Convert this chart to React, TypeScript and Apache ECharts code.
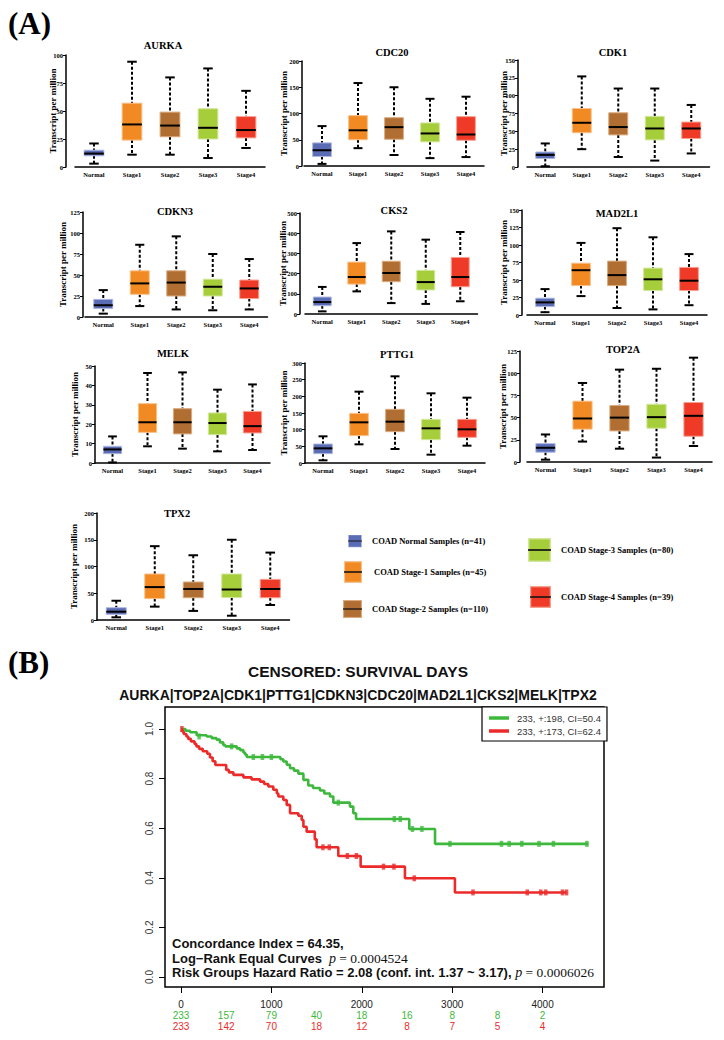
import React, { useEffect, useRef } from 'react';
import * as echarts from 'echarts';

// ---------- DATA ----------
const categories = ['Normal', 'Stage1', 'Stage2', 'Stage3', 'Stage4'];
const groupNames = [
  'COAD Normal Samples (n=41)',
  'COAD Stage-1 Samples (n=45)',
  'COAD Stage-2 Samples (n=110)',
  'COAD Stage-3 Samples (n=80)',
  'COAD Stage-4 Samples (n=39)',
];
const genes = ['AURKA', 'CDC20', 'CDK1', 'CDKN3', 'CKS2', 'MAD2L1', 'MELK', 'PTTG1', 'TOP2A', 'TPX2'];
// each group: [min, Q1, median, Q3, max]
const AURKA = [[3, 10, 12, 15, 21], [11, 24, 38, 57, 94], [11, 27, 37, 49, 80], [8, 25, 35, 52, 88], [17, 26, 33, 45, 68]];
const CDC20 = [[4, 18, 30, 44, 76], [34, 50, 68, 96, 158], [21, 51, 74, 92, 150], [15, 46, 62, 82, 128], [17, 49, 60, 94, 132]];
const CDK1 = [[1, 12, 17, 21, 33], [25, 48, 62, 82, 127], [14, 45, 56, 76, 110], [9, 38, 54, 71, 110], [19, 40, 54, 63, 87]];
const CDKN3 = [[4, 10, 14, 21, 32], [13, 27, 40, 55, 86], [9, 25, 41, 55, 96], [8, 25, 36, 45, 75], [9, 22, 34, 44, 69]];
const CKS2 = [[13, 41, 59, 84, 134], [112, 148, 183, 257, 351], [54, 160, 203, 261, 409], [50, 119, 158, 216, 368], [63, 135, 183, 280, 406]];
const MAD2L1 = [[4, 12, 18, 24, 37], [27, 42, 64, 74, 103], [10, 42, 57, 77, 124], [8, 35, 51, 67, 111], [14, 35, 49, 68, 87]];
const MELK = [[0.3, 4.8, 7, 8.6, 13.7], [8.6, 15.8, 21, 30.6, 46.4], [7.4, 15, 21, 28, 46.7], [6, 14.6, 20.6, 25.8, 37.8], [6.7, 15.5, 19, 26.6, 40.5]];
const PTTG1 = [[8, 28, 44, 57, 80], [56, 82, 122, 149, 214], [42, 94, 124, 161, 260], [25, 70, 104, 131, 209], [52, 77, 101, 131, 196]];
const TOP2A = [[2.6, 11, 16, 20.7, 31], [23, 37, 49, 68.5, 89], [15, 35, 50, 63.6, 104], [5, 38, 50.5, 65, 105], [18, 29, 52, 67, 117.5]];
const TPX2 = [[5, 10.5, 15.5, 23, 36], [25, 40, 61.5, 86, 138], [17, 41.6, 58, 71, 121], [8, 42, 57, 86, 150], [28, 41.6, 58, 76, 126]];
const yMax = [100, 200, 150, 125, 500, 150, 50, 300, 125, 200];
const yStep = [25, 50, 25, 25, 100, 25, 10, 50, 25, 50];

// Kaplan-Meier steps: [day, survival]
const kmLow = [[0, 1], [50, 0.993], [100, 0.987], [173, 0.975], [284, 0.97], [340, 0.963], [394, 0.957], [430, 0.946], [468, 0.935], [490, 0.93], [616, 0.922], [653, 0.915], [690, 0.905], [708, 0.897], [727, 0.887], [1100, 0.878], [1132, 0.869], [1170, 0.856], [1206, 0.842], [1250, 0.832], [1298, 0.82], [1354, 0.795], [1408, 0.772], [1460, 0.762], [1537, 0.752], [1585, 0.74], [1648, 0.728], [1685, 0.703], [1869, 0.687], [1906, 0.66], [1936, 0.637], [2525, 0.597], [2810, 0.537], [4505, 0.537]];
const kmHigh = [[0, 1], [15, 0.99], [30, 0.98], [60, 0.97], [80, 0.96], [110, 0.95], [150, 0.94], [170, 0.93], [200, 0.92], [240, 0.91], [290, 0.9], [320, 0.885], [350, 0.87], [380, 0.855], [500, 0.835], [530, 0.825], [580, 0.815], [690, 0.805], [780, 0.797], [874, 0.788], [920, 0.778], [966, 0.768], [1021, 0.755], [1060, 0.74], [1077, 0.728], [1132, 0.714], [1169, 0.694], [1206, 0.66], [1298, 0.65], [1335, 0.633], [1354, 0.606], [1390, 0.586], [1480, 0.555], [1500, 0.523], [1740, 0.488], [1987, 0.445], [2477, 0.398], [3030, 0.341], [4265, 0.341]];
const censorLow = [[200, 0.97], [560, 0.93], [800, 0.887], [900, 0.887], [1000, 0.887], [1740, 0.703], [2360, 0.637], [2425, 0.637], [2560, 0.597], [2665, 0.597], [2975, 0.537], [3545, 0.537], [3630, 0.537], [3770, 0.537], [3960, 0.537], [4120, 0.537], [4490, 0.537]];
const censorHigh = [[10, 1], [1570, 0.523], [1640, 0.523], [1840, 0.488], [1940, 0.488], [2240, 0.445], [2355, 0.445], [2580, 0.398], [3230, 0.341], [3830, 0.341], [3980, 0.341], [4035, 0.341], [4220, 0.341], [4265, 0.341]];
const kmNames = ['233, +:198, CI=50.4', '233, +:173, CI=62.4'];
const kmDayTicks = [0, 1000, 2000, 3000, 4000];
const kmSurvTicks = [0, 0.2, 0.4, 0.6, 0.8, 1.0];
const riskDays = [0, 500, 1000, 1500, 2000, 2500, 3000, 3500, 4000];
const riskLow = [233, 157, 79, 40, 18, 16, 8, 8, 2];
const riskHigh = [233, 142, 70, 18, 12, 8, 7, 5, 4];

// ---------- STYLE / LAYOUT ----------
const geneData = [AURKA, CDC20, CDK1, CDKN3, CKS2, MAD2L1, MELK, PTTG1, TOP2A, TPX2];
const fills = ['#5A6CB4', '#F28A24', '#B16E32', '#A6CE3A', '#EE3A26'];
const edges = ['#AEB8E2', '#F8C28C', '#D9AA7E', '#D2E79C', '#F6A092'];
const SERIF = '"Liberation Serif", "Times New Roman", serif';
const SANS = '"Liberation Sans", Arial, sans-serif';
const GREEN = '#3DB83D';
const RED = '#EC2A2A';

const panels = [
  { gx: 75, bw: 38, top: 55, bot: 167, ax: 66, ng: 9, tx: 163, ty: 45 },
  { gx: 304, bw: 36, top: 61, bot: 166, ax: 302, ng: 14, tx: 392, ty: 52 },
  { gx: 527, bw: 36.5, top: 60, bot: 167, ax: 518, ng: 10, tx: 613, ty: 52 },
  { gx: 85, bw: 36.5, top: 212, bot: 317, ax: 83, ng: 16, tx: 175, ty: 211 },
  { gx: 305, bw: 34.5, top: 213, bot: 314, ax: 300, ng: 13, tx: 394, ty: 210 },
  { gx: 527, bw: 36, top: 210, bot: 315, ax: 522, ng: 14, tx: 617, ty: 213 },
  { gx: 95, bw: 35, top: 366, bot: 463, ax: 95, ng: 16, tx: 173, ty: 353 },
  { gx: 305, bw: 36, top: 363, bot: 463, ax: 305, ng: 17, tx: 397, ty: 354 },
  { gx: 527, bw: 37, top: 351, bot: 462, ax: 520, ng: 13, tx: 623, ty: 349 },
  { gx: 97, bw: 38.5, top: 513, bot: 620, ax: 97, ng: 19, tx: 177, ty: 513 },
];

const legendPos = [
  { x: 348, cy: 541, w: 14, h: 13, pad: 5 },
  { x: 344, cy: 572, w: 18, h: 22, pad: 7 },
  { x: 343, cy: 609, w: 19, h: 18, pad: 5 },
  { x: 528, cy: 550, w: 23, h: 24, pad: 5 },
  { x: 530, cy: 597, w: 21, h: 22, pad: 5 },
];

function swatch(g: number) {
  const svg = `<svg xmlns="http://www.w3.org/2000/svg" width="20" height="20" viewBox="0 0 20 20" preserveAspectRatio="none"><rect x="0.6" y="0.6" width="18.8" height="18.8" fill="${fills[g]}" stroke="${edges[g]}" stroke-width="1.2"/><rect x="0" y="9.3" width="20" height="1.4" fill="#111"/></svg>`;
  return 'image://data:image/svg+xml;charset=utf-8,' + encodeURIComponent(svg);
}

function makeBox(g: number) {
  return (params: any, api: any) => {
    const x = api.value(0);
    const lo = api.coord([x, api.value(1)]);
    const q1 = api.coord([x, api.value(2)]);
    const md = api.coord([x, api.value(3)]);
    const q3 = api.coord([x, api.value(4)]);
    const hi = api.coord([x, api.value(5)]);
    const band = api.size([1, 0])[0];
    const bw = band * 0.52;
    const cw = bw * 0.48;
    const cx = lo[0];
    const dash = { stroke: '#000', lineWidth: 2, lineDash: [3, 2] };
    const solid = { stroke: '#000', lineWidth: 2 };
    return {
      type: 'group',
      children: [
        { type: 'line', shape: { x1: cx, y1: hi[1], x2: cx, y2: q3[1] }, style: dash },
        { type: 'line', shape: { x1: cx, y1: q1[1], x2: cx, y2: lo[1] }, style: dash },
        { type: 'line', shape: { x1: cx - cw / 2, y1: hi[1], x2: cx + cw / 2, y2: hi[1] }, style: solid },
        { type: 'line', shape: { x1: cx - cw / 2, y1: lo[1], x2: cx + cw / 2, y2: lo[1] }, style: solid },
        { type: 'rect', shape: { x: cx - bw / 2, y: q3[1], width: bw, height: q1[1] - q3[1] }, style: { fill: fills[g], stroke: edges[g], lineWidth: 1 } },
        { type: 'line', shape: { x1: cx - bw / 2, y1: md[1], x2: cx + bw / 2, y2: md[1] }, style: solid },
      ],
    };
  };
}

function buildOption() {
  const grid: any[] = [];
  const xAxis: any[] = [];
  const yAxis: any[] = [];
  const series: any[] = [];
  const graphic: any[] = [];
  const legend: any[] = [];

  panels.forEach((L, i) => {
    grid.push({ left: L.gx, top: L.top, width: L.bw * 5, height: L.bot - L.top });
    xAxis.push({
      type: 'category', gridIndex: i, data: categories,
      axisLine: { lineStyle: { color: '#000', width: 1.5 } },
      axisTick: { show: false },
      axisLabel: { interval: 0, margin: 4, color: '#000', fontFamily: SERIF, fontWeight: 'bold', fontSize: 6.5 },
    });
    yAxis.push({
      type: 'value', gridIndex: i, min: 0, max: yMax[i], interval: yStep[i], offset: L.gx - L.ax,
      splitLine: { show: false },
      axisLine: { show: true, lineStyle: { color: '#000', width: 1.5 } },
      axisTick: { show: true, length: 3, lineStyle: { color: '#000', width: 1 } },
      axisLabel: { margin: 3, color: '#000', fontFamily: SERIF, fontWeight: 'bold', fontSize: 6.5 },
      name: 'Transcript per million', nameLocation: 'middle', nameGap: L.ng, nameMoveOverlap: false,
      nameTextStyle: { fontFamily: SERIF, fontWeight: 'bold', fontSize: 9, color: '#000' },
    });
    geneData[i].forEach((vals, g) => {
      series.push({
        type: 'custom', name: groupNames[g], xAxisIndex: i, yAxisIndex: i,
        itemStyle: { color: fills[g] },
        encode: { x: 0, y: [1, 2, 3, 4, 5] },
        data: [[g, ...vals]],
        renderItem: makeBox(g),
      });
    });
    graphic.push({
      type: 'text', x: L.tx, y: L.ty,
      style: { text: genes[i], fill: '#000', font: `bold 10.5px ${SERIF}`, align: 'center', verticalAlign: 'middle' },
    });
  });

  legendPos.forEach((P, g) => {
    legend.push({
      left: P.x, top: P.cy - P.h / 2, padding: 0, selectedMode: false,
      itemWidth: P.w, itemHeight: P.h,
      data: [{ name: groupNames[g], icon: swatch(g) }],
      textStyle: { fontFamily: SERIF, fontWeight: 'bold', fontSize: 8.5, color: '#000', padding: [0, 0, 0, P.pad] },
    });
  });

  // Kaplan-Meier panel
  const K = 10;
  grid.push({ left: 165, top: 707, width: 439, height: 280, show: true, borderColor: '#000', borderWidth: 1.5, backgroundColor: 'transparent' });
  const kmX = { type: 'value', gridIndex: K, position: 'bottom', min: -177, max: 4679, splitLine: { show: false } };
  xAxis.push({
    ...kmX,
    axisLine: { show: false, onZero: false },
    axisTick: { show: true, length: 6, customValues: kmDayTicks, lineStyle: { color: '#000', width: 1 } },
    axisLabel: { customValues: kmDayTicks, margin: 12, fontSize: 10, color: '#222', fontFamily: SANS, formatter: (v: number) => String(v) },
  });
  xAxis.push({
    ...kmX, offset: 11,
    axisLine: { show: false, onZero: false }, axisTick: { show: false },
    axisLabel: { customValues: riskDays, margin: 12, fontSize: 10, color: GREEN, fontFamily: SANS, formatter: (v: number) => String(riskLow[riskDays.indexOf(v)]) },
  });
  xAxis.push({
    ...kmX, offset: 22,
    axisLine: { show: false, onZero: false }, axisTick: { show: false },
    axisLabel: { customValues: riskDays, margin: 12, fontSize: 10, color: RED, fontFamily: SANS, formatter: (v: number) => String(riskHigh[riskDays.indexOf(v)]) },
  });
  yAxis.push({
    type: 'value', gridIndex: K, position: 'left', min: -0.0403, max: 1.0887, splitLine: { show: false },
    axisLine: { show: false, onZero: false },
    axisTick: { show: true, length: 6, customValues: kmSurvTicks, lineStyle: { color: '#000', width: 1 } },
    axisLabel: { customValues: kmSurvTicks, rotate: 90, margin: 11, fontSize: 10, color: '#333', fontFamily: SANS, formatter: (v: number) => v.toFixed(1) },
  });
  series.push({
    type: 'line', name: kmNames[0], xAxisIndex: K, yAxisIndex: K, step: 'end', showSymbol: false, symbol: 'none',
    lineStyle: { color: GREEN, width: 2.6 }, itemStyle: { color: GREEN }, data: kmLow,
  });
  series.push({
    type: 'line', name: kmNames[1], xAxisIndex: K, yAxisIndex: K, step: 'end', showSymbol: false, symbol: 'none',
    lineStyle: { color: RED, width: 2.6 }, itemStyle: { color: RED }, data: kmHigh,
  });
  series.push({
    type: 'scatter', name: 'censored low', xAxisIndex: K, yAxisIndex: K, symbol: 'rect', symbolSize: [3.5, 6],
    itemStyle: { color: GREEN }, data: censorLow,
  });
  series.push({
    type: 'scatter', name: 'censored high', xAxisIndex: K, yAxisIndex: K, symbol: 'rect', symbolSize: [3.5, 6],
    itemStyle: { color: RED }, data: censorHigh,
  });
  legend.push({
    left: 482, top: 707, orient: 'vertical', padding: [6, 6, 5, 7], itemGap: 3,
    borderColor: '#000', borderWidth: 1.2, backgroundColor: '#fff', selectedMode: false,
    itemWidth: 20, itemHeight: 3.5, icon: 'rect',
    data: kmNames,
    textStyle: { fontFamily: SANS, fontSize: 9.5, color: '#333', padding: [0, 0, 0, 3] },
  });

  const richStyles = {
    b: { font: `bold 13px ${SANS}`, fill: '#111' },
    p: { font: `italic 14px ${SERIF}`, fill: '#111' },
    n: { font: `13.5px ${SERIF}`, fill: '#111' },
    g: { font: `bold 13px ${SANS}`, fill: '#111', width: 7 },
  };
  graphic.push(
    { type: 'text', x: 8, y: 23, style: { text: '(A)', fill: '#000', font: `bold 31px ${SERIF}`, align: 'left', verticalAlign: 'middle' } },
    { type: 'text', x: 8, y: 662, style: { text: '(B)', fill: '#000', font: `bold 31px ${SERIF}`, align: 'left', verticalAlign: 'middle' } },
    { type: 'text', x: 358, y: 671, style: { text: 'CENSORED: SURVIVAL DAYS', fill: '#111', font: `bold 15.5px ${SANS}`, align: 'center', verticalAlign: 'middle' } },
    { type: 'text', x: 358, y: 695, style: { text: 'AURKA|TOP2A|CDK1|PTTG1|CDKN3|CDC20|MAD2L1|CKS2|MELK|TPX2', fill: '#111', font: `bold 14px ${SANS}`, align: 'center', verticalAlign: 'middle' } },
    { type: 'text', x: 172, y: 943, style: { text: 'Concordance Index = 64.35,', fill: '#111', font: `bold 13px ${SANS}`, align: 'left', verticalAlign: 'middle' } },
    {
      type: 'text', x: 172, y: 958,
      style: { text: '{b|Log\u2212Rank Equal Curves}{g| }{p|p}{n| = 0.0004524}', align: 'left', verticalAlign: 'middle', rich: richStyles },
    },
    {
      type: 'text', x: 172, y: 972,
      style: { text: '{b|Risk Groups Hazard Ratio = 2.08 (conf. int. 1.37 ~ 3.17), }{p|p}{n| = 0.0006026}', align: 'left', verticalAlign: 'middle', rich: richStyles },
    },
  );

  return { animation: false, backgroundColor: '#fff', grid, xAxis, yAxis, series, legend, graphic };
}

export default function App() {
  const ref = useRef<HTMLDivElement>(null);
  useEffect(() => {
    const chart = echarts.init(ref.current as HTMLDivElement, null, { renderer: 'svg' });
    chart.setOption(buildOption() as any);
    return () => chart.dispose();
  }, []);
  return <div ref={ref} style={{ position: 'absolute', left: 0, top: 0, width: 724, height: 1040, background: '#fff' }} />;
}
